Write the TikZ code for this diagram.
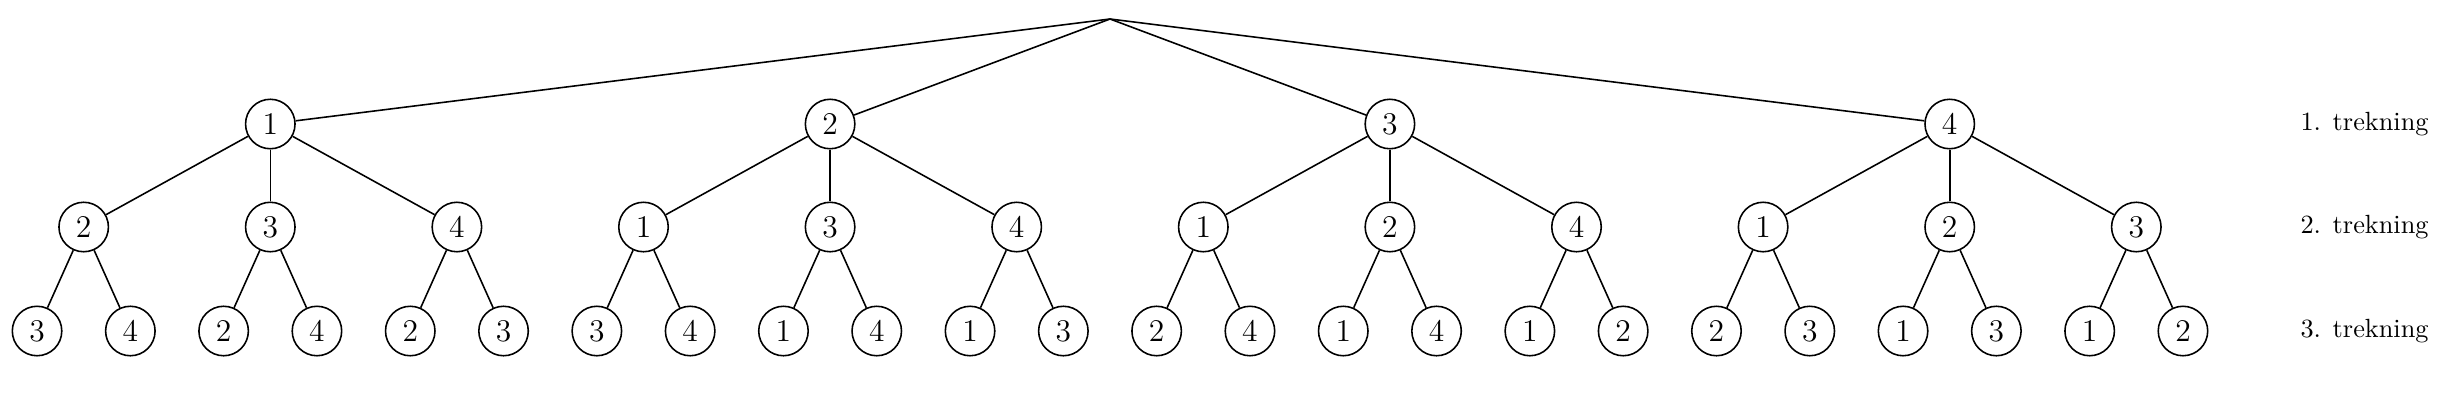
\documentclass[tikz,border=0pt]{standalone}
\begin{document}
\begin{tikzpicture}[x=0.38pt,y=-0.38pt,
  nd/.style={circle,draw,line width=0.6pt,minimum size=18.8pt,inner sep=0pt,font=\large},
  edge/.style={line width=0.6pt},
  lbl/.style={anchor=west,inner sep=0pt}]
\useasboundingbox (0,0) rectangle (2464,404);
\coordinate (root) at (1110,19);
\foreach \a/\bs [count=\k from 0] in {1/{2,3,4},2/{1,3,4},3/{1,2,4},4/{1,2,3}} {
  \pgfmathsetmacro\xa{270.3+559.8*\k}
  \node[nd] (n\a) at (\xa,124) {\a};
  \draw[edge] (root) -- (n\a);
  \foreach \b [count=\j from 0] in \bs {
    \pgfmathsetmacro\xb{\xa+186.6*(\j-1)}
    \node[nd] (n\a\b) at (\xb,227) {\b};
    \draw[edge] (n\a) -- (n\a\b);
    \pgfmathtruncatemacro\cA{((\a!=1)&&(\b!=1))?1:(((\a!=2)&&(\b!=2))?2:3)}
    \pgfmathtruncatemacro\cB{10-\a-\b-\cA}
    \node[nd] (n\a\b\cA) at (\xb-46.65,331) {\cA};
    \node[nd] (n\a\b\cB) at (\xb+46.65,331) {\cB};
    \draw[edge] (n\a\b) -- (n\a\b\cA);
    \draw[edge] (n\a\b) -- (n\a\b\cB);
  }
}
\node[lbl] (l1) at (2300,124) {1. trekning};
\node[lbl] (l2) at (2300,227) {2. trekning};
\node[lbl] (l3) at (2300,331) {3. trekning};
\end{tikzpicture}
\end{document}
